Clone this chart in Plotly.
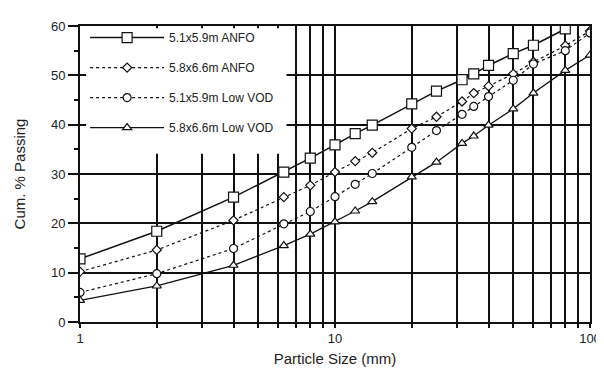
import plotly.graph_objects as go

# Particle sizes (mm)
sizes_a = [1, 2, 4, 6.3, 8, 10, 12, 14, 20, 25, 31.5, 35, 40, 50, 60, 80]
sizes_b = [1, 2, 4, 6.3, 8, 10, 12, 14, 20, 25, 31.5, 35, 40, 50, 60, 80, 100]

anfo_51 = [12.8, 18.4, 25.3, 30.4, 33.2, 35.9, 38.2, 39.9, 44.2, 46.8, 49.1, 50.3, 52.0, 54.4, 56.1, 59.4]
anfo_58 = [10.2, 14.6, 20.6, 25.3, 27.7, 30.4, 32.6, 34.3, 39.2, 41.6, 44.7, 46.4, 47.8, 50.3, 52.7, 56.0, 59.0]
lowvod_51 = [6.0, 9.8, 14.9, 19.9, 22.4, 25.4, 27.9, 30.1, 35.4, 38.8, 42.1, 43.7, 45.7, 49.0, 52.3, 55.0, 58.6]
lowvod_58 = [4.4, 7.3, 11.5, 15.5, 17.8, 20.3, 22.5, 24.4, 29.4, 32.4, 36.2, 37.7, 39.9, 43.2, 46.4, 51.0, 54.1]

names = ["5.1x5.9m ANFO", "5.8x6.6m ANFO", "5.1x5.9m Low VOD", "5.8x6.6m Low VOD"]

x_major = [1, 10, 100]
x_minor = [2, 3, 4, 5, 6, 7, 8, 9, 20, 30, 40, 50, 60, 70, 80, 90]
y_ticks = [0, 10, 20, 30, 40, 50, 60]

FONT = "Arial, Liberation Sans, sans-serif"
INK = "#111111"

fig = go.Figure()

specs = [
    (sizes_a, anfo_51, "square", 10, "solid", 1.5),
    (sizes_b, anfo_58, "diamond", 7, "dot", 1.2),
    (sizes_b, lowvod_51, "circle", 8, "dot", 1.2),
    (sizes_b, lowvod_58, "triangle-up", 8, "solid", 1.3),
]
for i, (xs, ys, sym, sz, dash, lw) in enumerate(specs):
    fig.add_trace(go.Scatter(
        x=xs, y=ys, name=names[i], mode="lines+markers",
        legendgroup=f"g{i}",
        line=dict(color=INK, width=lw, dash=dash),
        marker=dict(symbol=sym, size=sz, color="white",
                    line=dict(color=INK, width=1.2)),
    ))

# white panel behind the legend; no data lies in this corner
fig.add_shape(type="rect", xref="paper", yref="paper",
              x0=0.012, x1=0.405, y0=0.568, y1=0.992,
              fillcolor="white", line=dict(width=0), layer="above")

fig.update_layout(
    width=604, height=368,
    margin=dict(l=72, r=11, t=15, b=52),
    paper_bgcolor="white", plot_bgcolor="white",
    font=dict(family=FONT, size=12, color="#222"),
    showlegend=True,
    legend=dict(x=0.01, y=1.01, xanchor="left", yanchor="top",
                bgcolor="rgba(255,255,255,0)", borderwidth=0,
                traceorder="grouped", tracegroupgap=11,
                itemwidth=74, font=dict(size=12, family=FONT)),
)

fig.update_xaxes(
    type="log", range=[0, 2],
    tickvals=x_major, ticktext=["1", "10", "100"],
    ticks="outside", ticklen=4, tickcolor=INK, tickwidth=1.5,
    showgrid=True, gridcolor=INK, gridwidth=1.7,
    minor=dict(tickvals=x_minor, showgrid=True, gridcolor=INK, gridwidth=1.7,
               ticks="outside", ticklen=4, tickcolor=INK),
    showline=True, linecolor=INK, linewidth=1.7, mirror=True,
    zeroline=False,
    title=dict(text="Particle Size (mm)", font=dict(size=15, family=FONT), standoff=8),
    tickfont=dict(size=13, family=FONT),
)
fig.update_yaxes(
    range=[0, 60], tickvals=y_ticks,
    ticks="outside", ticklen=10, tickcolor=INK, tickwidth=1.5,
    showgrid=True, gridcolor=INK, gridwidth=1.7,
    minor=dict(dtick=5, ticks="outside", ticklen=4, tickcolor=INK, showgrid=False),
    showline=True, linecolor=INK, linewidth=1.7, mirror=True,
    zeroline=False,
    title=dict(text="Cum. % Passing", font=dict(size=15, family=FONT), standoff=22),
    tickfont=dict(size=13, family=FONT),
)

fig.write_html("out.html")
